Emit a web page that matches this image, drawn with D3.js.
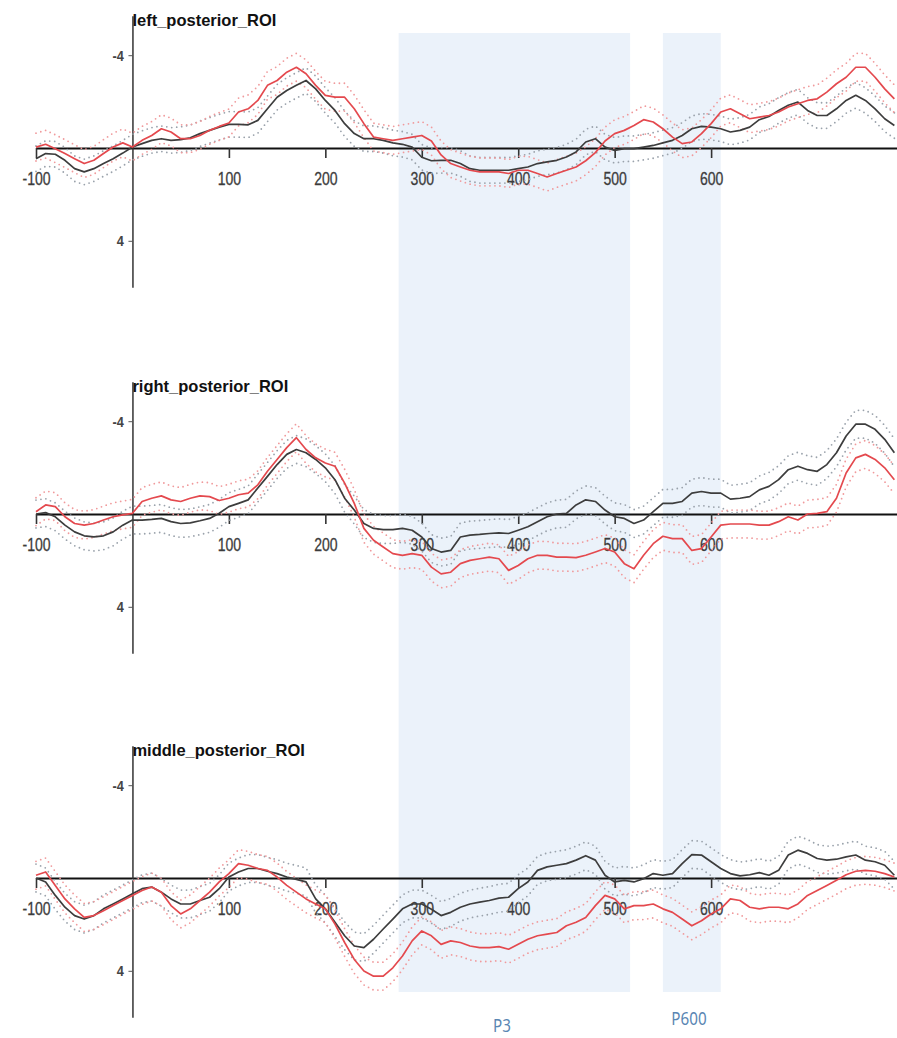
<!DOCTYPE html>
<html><head><meta charset="utf-8">
<script src="https://cdn.jsdelivr.net/npm/d3@7"></script>
<style>html,body{margin:0;padding:0;background:#fff;}svg{display:block;}</style>
</head><body>
<svg id="chart" width="897" height="1038"></svg>
<script>
// ---- data (µV, negative up), sampled every 10 ms from -100 to 790 ms ----
const times = d3.range(-100, 800, 10);
const panelTitles = ["left_posterior_ROI", "right_posterior_ROI", "middle_posterior_ROI"];
const xTickValues = [-100, 100, 200, 300, 400, 500, 600];
const yTickValues = [-4, 4];
const windows = [{label: "P3", start: 276, end: 516}, {label: "P600", start: 550, end: 610}];

const leftBlack = [0.46,0.24,0.27,0.53,0.89,1.03,0.89,0.67,0.46,0.22,
 -0.04,-0.19,-0.33,-0.4,-0.33,-0.36,-0.44,-0.62,-0.76,-0.9,
 -1.02,-1.02,-1.0,-1.19,-1.69,-2.19,-2.48,-2.7,-2.91,-2.55,
 -2.05,-1.62,-1.05,-0.62,-0.4,-0.4,-0.33,-0.22,-0.16,-0.04,
 0.4,0.55,0.53,0.53,0.67,0.89,0.96,0.96,0.96,0.96,
 0.89,0.82,0.67,0.6,0.53,0.39,0.17,-0.26,-0.4,-0.04,
 0.1,0.03,0.03,-0.04,-0.11,-0.22,-0.33,-0.54,-0.83,-0.93,
 -0.9,-0.83,-0.69,-0.76,-0.9,-1.22,-1.36,-1.62,-1.84,-1.98,
 -1.62,-1.4,-1.4,-1.69,-2.05,-2.27,-2.05,-1.69,-1.26,-0.97];
const leftRed = [-0.04,-0.16,0.03,0.24,0.46,0.67,0.53,0.24,-0.04,-0.22,
 -0.04,-0.33,-0.54,-0.83,-0.69,-0.4,-0.4,-0.54,-0.76,-0.93,
 -1.08,-1.55,-1.69,-2.05,-2.7,-2.91,-3.27,-3.48,-3.2,-2.7,
 -2.27,-2.19,-2.19,-1.69,-1.05,-0.47,-0.4,-0.33,-0.4,-0.47,
 -0.54,-0.3,0.3,0.67,0.82,0.96,1.03,1.03,1.03,1.1,
 0.96,0.96,1.1,1.25,1.1,0.96,0.82,0.55,0.2,-0.3,
 -0.62,-0.76,-0.97,-1.22,-1.12,-0.83,-0.47,-0.19,-0.26,-0.62,
 -1.05,-1.55,-1.69,-1.48,-1.26,-1.33,-1.4,-1.55,-1.77,-1.91,
 -2.05,-2.12,-2.41,-2.77,-3.05,-3.48,-3.48,-3.05,-2.55,-2.12];
const rightBlack = [0,-0.06,0.12,0.48,0.77,0.94,0.99,0.94,0.77,0.48,
 0.26,0.26,0.23,0.19,0.33,0.41,0.38,0.29,0.19,-0.03,
 -0.32,-0.46,-0.61,-1.12,-1.62,-2.13,-2.57,-2.78,-2.64,-2.35,
 -1.99,-1.48,-0.68,-0.17,0.41,0.62,0.67,0.67,0.62,0.7,
 0.99,1.49,1.64,1.57,0.99,0.91,0.88,0.84,0.81,0.84,
 0.7,0.55,0.33,0.12,0,-0.03,-0.39,-0.61,-0.54,-0.17,
 0.12,0.19,0.41,0.26,-0.1,-0.46,-0.46,-0.54,-0.9,-0.97,
 -0.9,-0.9,-0.64,-0.68,-0.75,-1.04,-1.19,-1.48,-1.91,-2.06,
 -1.91,-1.84,-2.13,-2.64,-3.36,-3.87,-3.87,-3.65,-3.22,-2.64];
const rightRed = [-0.1,-0.39,-0.32,0.12,0.41,0.48,0.41,0.26,0.12,0.04,
 -0.03,-0.54,-0.68,-0.78,-0.61,-0.54,-0.68,-0.78,-0.75,-0.58,
 -0.68,-0.83,-0.9,-1.26,-1.84,-2.35,-2.86,-3.29,-2.78,-2.42,
 -2.2,-2.06,-1.33,-0.46,0.62,1.13,1.42,1.71,1.78,1.71,
 1.78,2.29,2.58,2.51,2.14,2.0,1.93,1.86,1.93,2.43,
 2.22,1.93,1.78,1.78,1.86,1.86,1.88,1.78,1.64,1.49,
 1.64,2.14,2.36,1.78,1.28,0.96,1.06,1.06,1.57,1.49,
 0.99,0.48,0.43,0.43,0.43,0.48,0.48,0.33,0.12,0.26,
 0,-0.03,-0.1,-0.68,-1.77,-2.42,-2.57,-2.35,-1.99,-1.48];
const middleBlack = [0,0.17,0.75,1.26,1.62,1.77,1.62,1.33,1.12,0.9,
 0.68,0.46,0.39,0.61,0.9,1.12,1.12,0.97,0.83,0.46,
 -0.04,-0.26,-0.41,-0.41,-0.29,-0.19,-0.04,0.06,0.17,0.9,
 1.33,1.91,2.49,2.93,3.0,2.64,2.2,1.77,1.33,1.12,
 1.12,1.35,1.62,1.48,1.26,1.12,1.04,0.97,0.87,0.83,
 0.46,0.17,-0.33,-0.48,-0.55,-0.62,-0.77,-0.96,-0.77,-0.12,
 0.17,0.1,0.17,0.03,-0.19,-0.12,-0.19,-0.62,-1.01,-0.99,
 -0.7,-0.41,-0.19,-0.09,-0.14,-0.23,-0.12,-0.33,-0.99,-1.2,
 -1.06,-0.84,-0.77,-0.81,-0.91,-0.99,-0.77,-0.7,-0.55,-0.12];
const middleRed = [-0.12,-0.26,0.32,0.9,1.33,1.7,1.62,1.41,1.19,0.97,
 0.75,0.54,0.39,0.61,1.19,1.55,1.33,0.97,0.61,0.17,
 -0.19,-0.62,-0.55,-0.41,-0.33,-0.04,0.32,0.61,0.9,1.12,
 1.33,1.99,2.78,3.51,4.01,4.23,4.23,3.87,3.36,2.71,
 2.28,2.49,2.86,2.71,2.78,2.93,3.0,3.0,2.96,3.07,
 2.86,2.64,2.49,2.42,2.35,2.06,1.91,1.7,1.19,0.75,
 0.9,1.33,1.19,1.19,1.12,1.33,1.48,1.77,2.06,1.84,
 1.55,1.33,0.9,0.97,1.26,1.33,1.26,1.26,1.33,1.12,
 0.75,0.54,0.32,0.1,-0.14,-0.29,-0.33,-0.29,-0.19,-0.04];
// standard-error half-widths of the dotted bands (µV)
const seBlack = [0.55, 0.6, 0.6];
const seRed = [0.6, 0.6, 0.6];

const blackSeries = [leftBlack, rightBlack, middleBlack];
const redSeries = [leftRed, rightRed, middleRed];

// ---- layout ----
const svg = d3.select("#chart");
const zeroY = [148, 514, 878];
const pxPerUV = 23.2;
const yDomain = [-5.7, 6.0];
const x = d3.scaleLinear().domain([-100, 800]).range([36, 904]);
const axisX = x(0);

// shaded analysis windows
const shadeTop = 33, shadeBottom = 992;
svg.append("g").selectAll("rect").data(windows).join("rect")
  .attr("x", d => x(d.start)).attr("width", d => x(d.end) - x(d.start))
  .attr("y", shadeTop).attr("height", shadeBottom - shadeTop)
  .attr("fill", "#ebf2fa");

const labelPos = [{cx: 502, base: 1032}, {cx: 689, base: 1025}];
svg.append("g").selectAll("text").data(windows).join("text")
  .attr("transform", (d, i) => `translate(${labelPos[i].cx},${labelPos[i].base}) scale(0.8,1)`)
  .attr("text-anchor", "middle")
  .attr("font-family", "'Noto Sans', 'Open Sans', sans-serif")
  .attr("font-size", 19)
  .attr("fill", "#5a86b3")
  .text(d => d.label);

panelTitles.forEach((title, p) => {
  const z = zeroY[p];
  const y = d3.scaleLinear().domain(yDomain).range([z + yDomain[0] * pxPerUV, z + yDomain[1] * pxPerUV]);
  const g = svg.append("g");

  // x axis (zero line)
  const xa = g.append("g").attr("transform", `translate(0,${y(0)})`)
    .call(d3.axisBottom(x).tickValues(xTickValues).tickSize(10).tickSizeOuter(0).tickPadding(14).tickFormat(d => String(d)));
  xa.select(".domain").attr("stroke", "#111").attr("stroke-width", 2);
  xa.selectAll(".tick line").attr("stroke", "#333").attr("stroke-width", 1.6);
  xa.selectAll(".tick text").attr("font-family", "'Liberation Sans', Arial, sans-serif")
    .attr("font-size", 18).attr("fill", "#3c3c3c").attr("stroke", "#3c3c3c").attr("stroke-width", 0.3)
    .attr("transform", "scale(0.78,1)");

  // y axis
  const ya = g.append("g").attr("transform", `translate(${axisX},0)`)
    .call(d3.axisLeft(y).tickValues(yTickValues).tickSize(4).tickSizeOuter(0).tickPadding(6).tickFormat(d => String(d)));
  ya.select(".domain").attr("stroke", "#333").attr("stroke-width", 1.5);
  ya.selectAll(".tick line").attr("stroke", "#555");
  ya.selectAll(".tick text").attr("font-family", "'Liberation Sans', Arial, sans-serif")
    .attr("font-size", 15).attr("font-weight", "bold").attr("fill", "#444").attr("transform", "scale(0.85,1)");

  // title
  g.append("text").attr("x", axisX).attr("y", z - 122)
    .attr("font-family", "'Liberation Sans', Arial, sans-serif")
    .attr("font-size", 16.5).attr("font-weight", "bold").attr("fill", "#111")
    .text(title);

  const line = d3.line().x((d, i) => x(times[i])).y(d => y(d));
  const conds = [
    {data: blackSeries[p], se: seBlack[p], color: "#3d3d3d", dot: "#9aa2ab"},
    {data: redSeries[p], se: seRed[p], color: "#e4494e", dot: "#f09a9c"}
  ];
  conds.forEach(c => {
    [-1, 1].forEach(s => {
      g.append("path").datum(c.data.map(v => v + s * c.se))
        .attr("d", line).attr("fill", "none")
        .attr("stroke", c.dot).attr("stroke-width", 1.8)
        .attr("stroke-dasharray", "0,5").attr("stroke-linecap", "round");
    });
  });
  conds.forEach(c => {
    g.append("path").datum(c.data).attr("d", line).attr("fill", "none")
      .attr("stroke", c.color).attr("stroke-width", 1.7).attr("stroke-linejoin", "round");
  });
});
</script>
</body></html>
